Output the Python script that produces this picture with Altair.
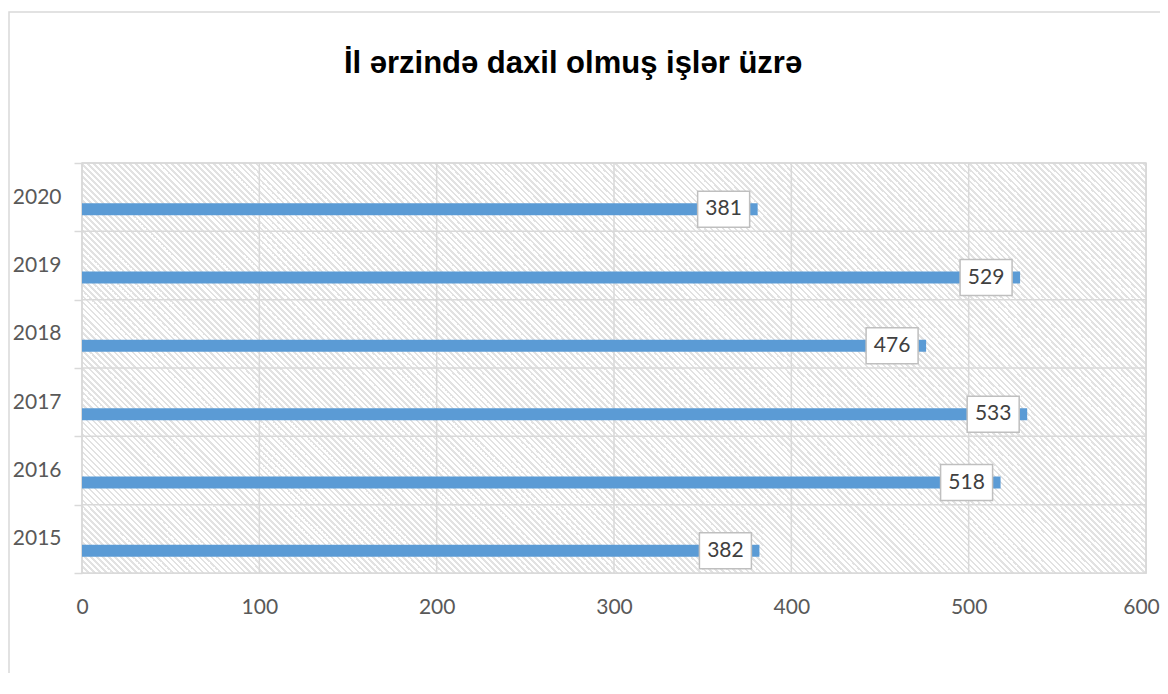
import altair as alt
import pandas as pd

years = ["2015", "2016", "2017", "2018", "2019", "2020"]
values = [382, 518, 533, 476, 529, 381]
x_ticks = [0, 100, 200, 300, 400, 500, 600]
title_text = "İl ərzində daxil olmuş işlər üzrə"

df = pd.DataFrame({"year": years, "value": values})
ticks_df = pd.DataFrame({"tick": x_ticks})
bg_df = pd.DataFrame({"x0": [x_ticks[0]], "x1": [x_ticks[-1]]})

W, H = 1064, 410
GRID = "#d9d9d9"
LABEL = "#595959"
FONT = "Lato"

# diagonal hatch made from a striped linear gradient (6px horizontal period)
period = 6.0 / (W + H)
stops = []
i = 0
while i * period < 1:
    a = i * period
    b = min(1.0, (i + 0.34) * period)
    c = min(1.0, (i + 1) * period)
    stops += [
        alt.GradientStop(offset=a, color="#e2e2e2"),
        alt.GradientStop(offset=b, color="#e2e2e2"),
        alt.GradientStop(offset=b, color="#ffffff"),
        alt.GradientStop(offset=c, color="#ffffff"),
    ]
    i += 1
v0 = H / W
s = (1 + v0) / (1 + v0 * v0)
hatch = alt.LinearGradient(gradient="linear", stops=stops,
                           x1=0, y1=1, x2=s, y2=1 - v0 * s)

xscale = alt.Scale(domain=[x_ticks[0], x_ticks[-1]], nice=False, zero=True)
xaxis = alt.Axis(values=x_ticks, grid=False, ticks=False, domain=False,
                 labelFont=FONT, labelFontSize=21, labelColor=LABEL,
                 labelPadding=23, labelFlush=False, title=None,
                 labelOffset=alt.ExprRef(f"datum.value == {x_ticks[-1]} ? -5 : 0"))
order = list(reversed(years))
yscale = alt.Scale(domain=order, paddingInner=0, paddingOuter=0)
yaxis = alt.Axis(grid=False, domain=False, ticks=True, tickBand="extent",
                 tickSize=8, tickColor=GRID, tickWidth=1.5,
                 labelFont=FONT, labelFontSize=21, labelColor=LABEL,
                 labelPadding=13, title=None)


def X(field):
    return alt.X(field, type="quantitative", scale=xscale, axis=xaxis)


def Y(**kw):
    return alt.Y("year:N", scale=yscale, axis=yaxis, sort=order, **kw)


frame = alt.Chart(bg_df).mark_rect(
    fill=None, stroke=GRID, strokeWidth=1.5
).encode(x=alt.value(-73), x2=alt.value(1300), y=alt.value(-151), y2=alt.value(900))

bg = alt.Chart(bg_df).mark_rect(
    fill=hatch, stroke=GRID, strokeWidth=1.5
).encode(x=X("x0"), x2="x1")

vgrid = alt.Chart(ticks_df).mark_rule(color=GRID, strokeWidth=1.5).encode(x=X("tick"))

hgrid = alt.Chart(df).mark_rule(color=GRID, strokeWidth=1.5).encode(y=Y(bandPosition=0))

bars = alt.Chart(df).mark_bar(size=12, yOffset=12, color="#5B9BD5").encode(
    x=X("value"), y=Y()
)

boxes = alt.Chart(df).mark_bar(
    size=36, yOffset=12, xOffset=-60, x2Offset=-8,
    fill="#ffffff", stroke="#bfbfbf", strokeWidth=1.5
).encode(x=X("value"), x2="value", y=Y())

labels = alt.Chart(df).mark_text(
    font=FONT, fontSize=21, color="#404040", align="center", baseline="middle",
    xOffset=-34, yOffset=12
).encode(x=X("value"), y=Y(), text="value:Q")

chart = alt.layer(frame, bg, vgrid, hgrid, bars, boxes, labels).properties(
    width=W, height=H,
    title=alt.TitleParams(title_text, font="Liberation Sans", fontSize=31,
                          fontWeight="bold", color="#000000", anchor="middle",
                          frame="group", dx=-41, offset=-93, baseline="alphabetic"),
    autosize=alt.AutoSizeParams(type="none"),
    padding={"left": 74, "top": 155, "right": 14, "bottom": 100},
).configure_view(stroke=None).configure(background="#ffffff")

chart.save("out.html", embed_options={"renderer": "svg", "actions": False})
